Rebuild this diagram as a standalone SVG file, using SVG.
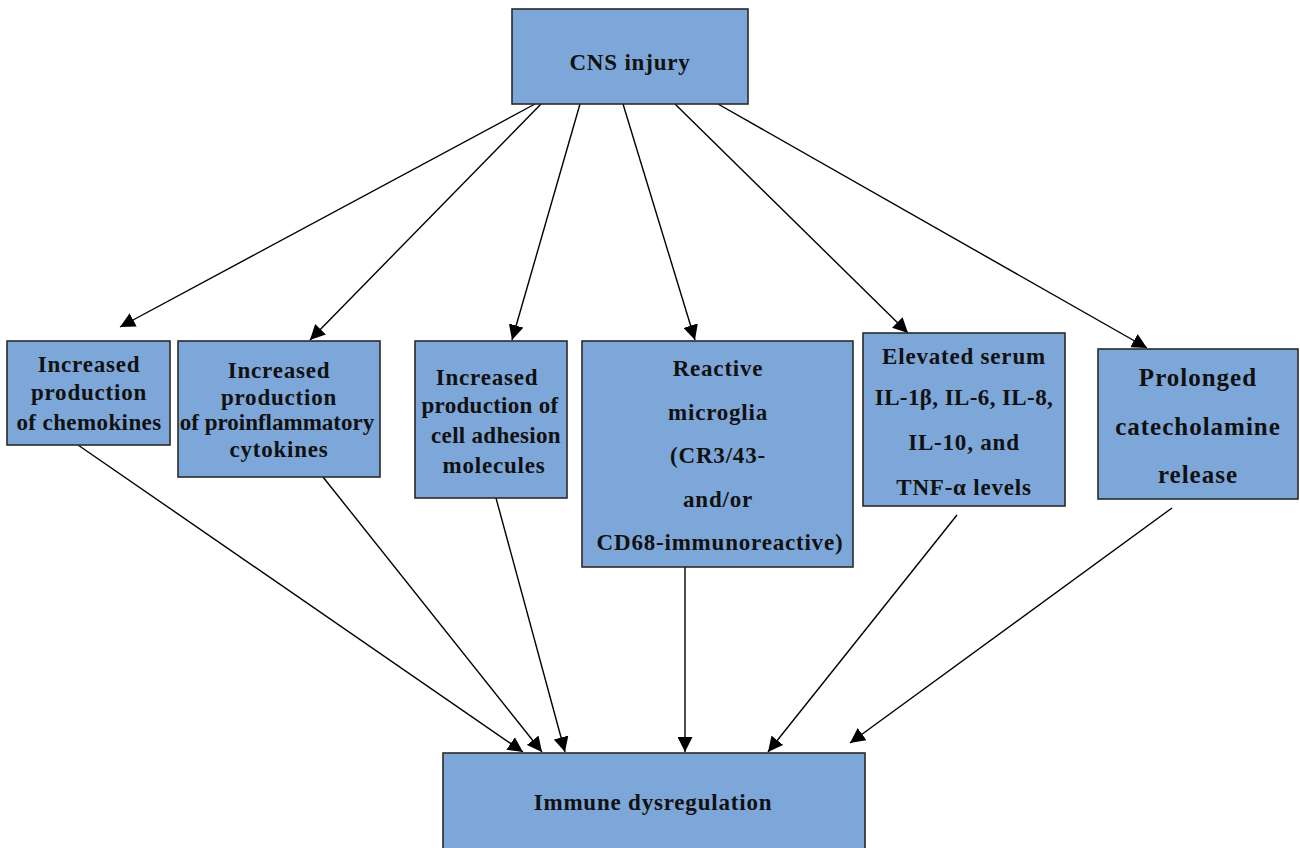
<svg xmlns="http://www.w3.org/2000/svg" width="1300" height="848" viewBox="0 0 1300 848">
<defs>
<marker id="ah" viewBox="0 0 10 10" refX="10" refY="5" markerWidth="15" markerHeight="15" markerUnits="userSpaceOnUse" orient="auto">
<path d="M0,0 L10,5 L0,10 Z" fill="#000"/>
</marker>
<style>
.box{fill:#7da7d9;stroke:#2a2a2a;stroke-width:1.6}
.t{font-family:"Liberation Serif","Times New Roman",serif;font-weight:bold;font-size:23px;letter-spacing:0.8px;fill:#111;text-anchor:middle}
.big{font-size:25px;letter-spacing:1px}
.c{stroke:#000;stroke-width:1.4;fill:none;marker-end:url(#ah)}
</style>
</defs>
<rect width="1300" height="848" fill="#fff"/>
<g id="connectors">
<line class="c" x1="535" y1="104" x2="120" y2="327"/>
<line class="c" x1="541" y1="104" x2="310" y2="340"/>
<line class="c" x1="580" y1="104" x2="512" y2="340"/>
<line class="c" x1="623" y1="104" x2="695" y2="340"/>
<line class="c" x1="675" y1="104" x2="908" y2="333"/>
<line class="c" x1="718" y1="104" x2="1147" y2="348"/>
<line class="c" x1="78" y1="445" x2="523" y2="752"/>
<line class="c" x1="323" y1="477" x2="542" y2="752"/>
<line class="c" x1="496" y1="498" x2="565" y2="752"/>
<line class="c" x1="685" y1="567" x2="685" y2="752"/>
<line class="c" x1="957" y1="515" x2="768" y2="752"/>
<line class="c" x1="1172" y1="508" x2="850" y2="743"/>
</g>
<g id="cns">
<rect class="box" x="512" y="9" width="236" height="95"/>
<text class="t" x="630" y="70">CNS injury</text>
</g>
<g id="chemokines">
<rect class="box" x="7" y="341" width="163" height="104"/>
<text class="t" x="89" y="372">Increased</text>
<text class="t" x="89" y="400">production</text>
<text class="t" x="89" y="430" style="letter-spacing:0.4px">of chemokines</text>
</g>
<g id="cytokines">
<rect class="box" x="178" y="341" width="202" height="136"/>
<text class="t" x="279" y="378">Increased</text>
<text class="t" x="279" y="405">production</text>
<text class="t" x="277" y="430" style="letter-spacing:0px">of proinflammatory</text>
<text class="t" x="279" y="457">cytokines</text>
</g>
<g id="adhesion">
<rect class="box" x="415" y="341" width="152" height="157"/>
<text class="t" x="487" y="385">Increased</text>
<text class="t" x="490" y="413" style="letter-spacing:0.3px">production of</text>
<text class="t" x="496" y="443" style="letter-spacing:0.3px">cell adhesion</text>
<text class="t" x="494" y="473">molecules</text>
</g>
<g id="microglia">
<rect class="box" x="582" y="341" width="271" height="226"/>
<text class="t" x="718" y="376">Reactive</text>
<text class="t" x="718" y="420">microglia</text>
<text class="t" x="718" y="463">(CR3/43-</text>
<text class="t" x="718" y="507">and/or</text>
<text class="t" x="720" y="550">CD68-immunoreactive)</text>
</g>
<g id="serum">
<rect class="box" x="863" y="333" width="202" height="173"/>
<text class="t" x="964" y="364">Elevated serum</text>
<text class="t" x="964" y="405" style="letter-spacing:0.4px">IL-1β, IL-6, IL-8,</text>
<text class="t" x="964" y="450">IL-10, and</text>
<text class="t" x="964" y="495">TNF-α levels</text>
</g>
<g id="catecholamine">
<rect class="box" x="1098" y="349" width="200" height="150"/>
<text class="t big" x="1198" y="386">Prolonged</text>
<text class="t big" x="1198" y="435">catecholamine</text>
<text class="t big" x="1198" y="483">release</text>
</g>
<g id="immune">
<rect class="box" x="443" y="753" width="422" height="100"/>
<text class="t" x="653" y="810">Immune dysregulation</text>
</g>
</svg>
